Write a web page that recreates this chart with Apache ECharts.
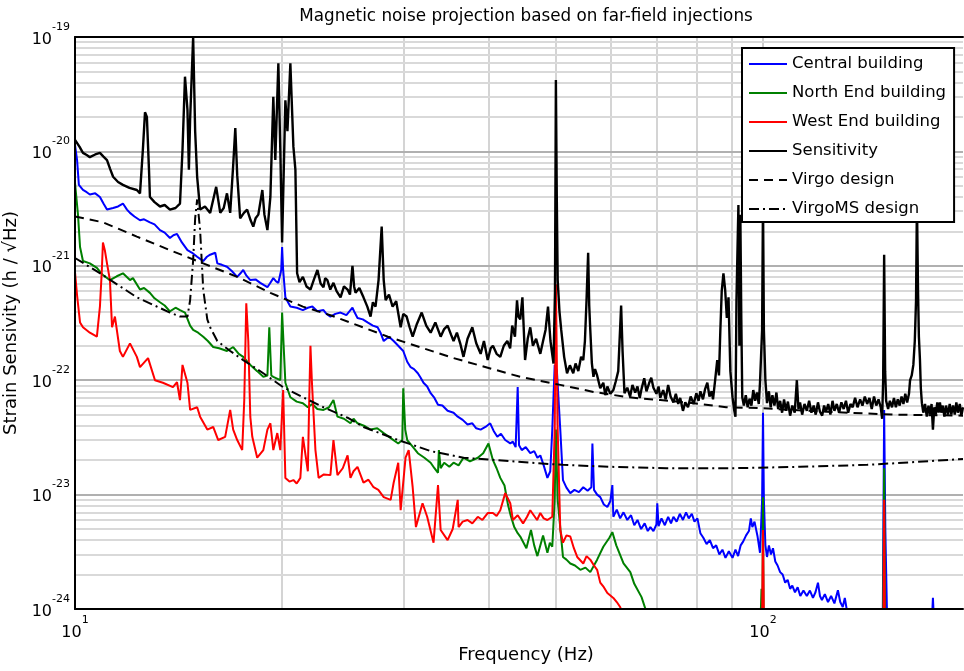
<!DOCTYPE html>
<html><head><meta charset="utf-8">
<script src="https://cdn.jsdelivr.net/npm/echarts@6/dist/echarts.min.js"></script>
<style>html,body{margin:0;padding:0;background:#fff}#c{width:964px;height:671px}</style>
</head><body><div id="c"></div>
<script>
// ---------- data (frequency in Hz, strain sensitivity in 1/sqrt(Hz)) ----------
const titleText = 'Magnetic noise projection based on far-field injections';
const xName = 'Frequency (Hz)';
const yName = 'Strain Sensivity (h / \u221AHz)';
const xRange = [10, 195.3];
const yRange = [1e-24, 1e-19];
const minorFreqs = [20, 30, 40, 50, 60, 70, 80, 90];
const majorFreqs = [100];
const yMinorMantissas = [2, 3, 4, 5, 6, 7, 8, 9];
const yDecades = [-24, -23, -22, -21, -20];
const yMajorExps = [-23, -22, -21, -20];
const seriesNames = ['Central building', 'North End building', 'West End building', 'Sensitivity', 'Virgo design', 'VirgoMS design'];

const central = [[10.0,1.14e-20],[10.07,8.4e-21],[10.13,5.1e-21],[10.27,4.6e-21],[10.4,4.4e-21],[10.51,4.2e-21],[10.7,4.3e-21],[10.87,4.0e-21],[11.0,3.5e-21],[11.13,3.1e-21],[11.36,3.2e-21],[11.55,3.3e-21],[11.74,3.5e-21],[11.9,3.1e-21],[12.02,2.9e-21],[12.2,2.7e-21],[12.43,2.5e-21],[12.6,2.55e-21],[12.85,2.4e-21],[13.05,2.3e-21],[13.29,2.05e-21],[13.5,1.95e-21],[13.74,1.75e-21],[13.9,1.85e-21],[14.07,1.9e-21],[14.3,1.6e-21],[14.57,1.37e-21],[14.8,1.3e-21],[15.05,1.2e-21],[15.36,1.1e-21],[15.55,1.2e-21],[15.72,1.25e-21],[15.99,1.3e-21],[16.10,1.05e-21],[16.35,1.02e-21],[16.63,9.8e-22],[16.9,9.0e-22],[17.21,8.0e-22],[17.4,8.6e-22],[17.56,9.2e-22],[17.75,8.2e-22],[17.98,7.5e-22],[18.3,7.6e-22],[18.59,7.1e-22],[18.8,6.8e-22],[19.04,6.5e-22],[19.2,7.0e-22],[19.42,7.8e-22],[19.6,7.3e-22],[19.75,7.1e-22],[19.94,9.2e-22],[20.0,1.46e-21],[20.07,9.2e-22],[20.22,5.3e-22],[20.4,4.8e-22],[20.56,4.4e-22],[21.0,4.3e-22],[21.44,4.1e-22],[21.8,4.3e-22],[22.13,4.4e-22],[22.5,4.0e-22],[22.97,4.1e-22],[23.2,3.8e-22],[23.51,3.6e-22],[23.9,3.8e-22],[24.32,3.9e-22],[24.8,3.7e-22],[25.31,4.3e-22],[25.5,3.9e-22],[25.74,3.5e-22],[26.2,3.4e-22],[26.62,3.2e-22],[27.1,3.0e-22],[27.53,2.9e-22],[27.8,2.6e-22],[28.1,2.2e-22],[28.6,2.4e-22],[29.05,2.2e-22],[29.5,2.0e-22],[30.0,1.8e-22],[30.4,1.45e-22],[30.75,1.3e-22],[31.1,1.25e-22],[31.5,1.15e-22],[31.8,1.05e-22],[32.1,9.5e-23],[32.5,8.8e-23],[32.88,7.7e-23],[33.3,7.0e-23],[33.7,6.1e-23],[34.2,6.0e-23],[34.8,5.4e-23],[35.5,5.2e-23],[36.0,4.8e-23],[36.6,4.5e-23],[37.2,4.1e-23],[37.8,4.2e-23],[38.3,3.8e-23],[38.87,3.7e-23],[39.5,3.9e-23],[40.13,4.2e-23],[40.6,3.6e-23],[41.1,3.2e-23],[41.6,3.4e-23],[42.2,3.0e-23],[42.92,2.8e-23],[43.3,2.9e-23],[43.7,2.6e-23],[44.0,8.7e-23],[44.2,2.7e-23],[44.6,2.45e-23],[45.2,2.6e-23],[45.89,2.3e-23],[46.5,2.4e-23],[47.0,2.1e-23],[47.46,2.2e-23],[48.0,1.8e-23],[48.6,1.4e-23],[49.07,1.6e-23],[49.4,3.7e-23],[49.8,1.36e-22],[50.17,1.2e-22],[50.74,3.7e-23],[51.2,1.34e-23],[51.8,1.15e-23],[52.47,1.03e-23],[53.2,1.1e-23],[54.0,1.05e-23],[54.8,1.16e-23],[55.6,1.08e-23],[56.3,1.16e-23],[56.5,2.8e-23],[56.8,1.1e-23],[57.4,1.0e-23],[58.01,9.5e-24],[58.7,8.2e-24],[59.4,7.8e-24],[60.0,8.8e-24],[60.4,1.21e-23],[60.6,6.4e-24],[61.3,7.4e-24],[62.0,6.2e-24],[62.7,7.0e-24],[63.5,6.0e-24],[64.3,6.6e-24],[65.0,5.4e-24],[65.7,6.0e-24],[66.5,5.0e-24],[67.3,5.6e-24],[68.0,4.8e-24],[68.6,5.2e-24],[69.3,4.8e-24],[70.0,5.5e-24],[70.2,8.4e-24],[70.5,5.3e-24],[71.2,6.2e-24],[72.0,5.4e-24],[72.8,6.4e-24],[73.5,5.6e-24],[74.1,6.4e-24],[74.9,5.8e-24],[75.7,6.8e-24],[76.5,6.0e-24],[77.3,7.0e-24],[78.0,6.2e-24],[78.8,6.8e-24],[79.5,5.8e-24],[80.3,6.2e-24],[81.09,4.6e-24],[81.9,4.2e-24],[82.8,3.7e-24],[83.7,4.0e-24],[84.6,3.4e-24],[85.5,3.6e-24],[86.4,3.0e-24],[87.3,3.3e-24],[88.2,2.8e-24],[89.2,3.2e-24],[90.3,2.8e-24],[91.2,3.3e-24],[92.0,2.9e-24],[92.8,3.6e-24],[93.6,3.9e-24],[94.5,4.4e-24],[95.4,4.8e-24],[96.0,6.2e-24],[96.5,5.2e-24],[97.2,5.8e-24],[98.2,4.3e-24],[99.0,3.1e-24],[99.7,9.0e-24],[100.0,5.2e-23],[100.3,9.0e-24],[100.8,3.6e-24],[101.35,2.85e-24],[102.0,3.6e-24],[102.7,3.0e-24],[103.4,3.4e-24],[104.2,2.6e-24],[105.0,2.4e-24],[105.9,2.1e-24],[106.8,2.0e-24],[107.7,1.7e-24],[108.6,1.8e-24],[109.5,1.5e-24],[110.3,1.6e-24],[111.3,1.4e-24],[112.3,1.55e-24],[113.3,1.3e-24],[114.5,1.45e-24],[115.8,1.3e-24],[117.0,1.45e-24],[118.2,1.25e-24],[119.2,1.4e-24],[120.2,1.7e-24],[121.0,1.3e-24],[121.8,1.2e-24],[123.0,1.35e-24],[124.3,1.15e-24],[125.6,1.3e-24],[127.0,1.12e-24],[128.5,1.46e-24],[129.5,1.15e-24],[130.6,1.04e-24],[131.5,1.25e-24],[132.5,9.5e-25],[133.8,8e-25],[149.3,8e-25],[150.0,5.5e-23],[150.6,4.9e-24],[151.5,8e-25],[176.0,8e-25],[176.6,1.25e-24],[177.2,8e-25],[195.3,8e-25]];

const northEnd = [[10.0,5.3e-21],[10.1,2.8e-21],[10.17,1.46e-21],[10.27,1.1e-21],[10.51,1.05e-21],[10.76,9.6e-22],[10.98,8.3e-22],[11.24,7.5e-22],[11.5,8.1e-22],[11.74,8.6e-22],[12.02,7.5e-22],[12.14,7.8e-22],[12.43,6.2e-22],[12.6,6.4e-22],[12.85,5.8e-22],[13.05,5.2e-22],[13.29,4.8e-22],[13.5,4.5e-22],[13.74,4.0e-22],[14.0,4.3e-22],[14.21,4.1e-22],[14.45,3.9e-22],[14.7,3.0e-22],[14.85,2.75e-22],[15.1,2.6e-22],[15.36,2.4e-22],[15.6,2.2e-22],[15.88,1.95e-22],[16.2,1.9e-22],[16.63,1.8e-22],[16.98,1.95e-22],[17.3,1.7e-22],[17.56,1.6e-22],[18.0,1.35e-22],[18.4,1.2e-22],[18.78,1.07e-22],[19.04,1.1e-22],[19.16,2.9e-22],[19.29,1.1e-22],[19.42,1.07e-22],[19.88,1.0e-22],[20.0,3.9e-22],[20.22,9.5e-23],[20.56,7.1e-23],[21.0,6.5e-23],[21.44,6.3e-23],[21.8,5.8e-23],[22.13,6.2e-23],[22.5,5.6e-23],[22.97,5.5e-23],[23.4,5.8e-23],[23.75,6.7e-23],[24.07,4.8e-23],[24.6,4.6e-23],[25.14,4.2e-23],[25.4,4.6e-23],[25.74,4.2e-23],[26.3,4.0e-23],[26.89,3.7e-23],[27.5,3.8e-23],[28.1,3.45e-23],[28.8,3.1e-23],[29.5,2.8e-23],[29.9,3.0e-23],[30.0,8.5e-23],[30.2,3.7e-23],[30.4,3.0e-23],[31.0,2.6e-23],[31.5,2.3e-23],[32.2,2.1e-23],[32.88,1.9e-23],[33.3,1.7e-23],[33.7,1.55e-23],[33.8,2.45e-23],[34.0,1.7e-23],[34.4,1.9e-23],[35.0,1.75e-23],[35.5,1.9e-23],[36.1,1.8e-23],[36.7,2.1e-23],[37.5,1.95e-23],[38.5,2.1e-23],[39.2,2.3e-23],[39.9,2.8e-23],[40.5,2.0e-23],[41.0,1.7e-23],[41.51,1.4e-23],[42.1,1.2e-23],[42.6,8.1e-24],[43.0,6.5e-24],[43.5,5.2e-24],[44.0,4.6e-24],[44.38,4.3e-24],[45.3,3.4e-24],[46.0,4.9e-24],[46.5,3.6e-24],[47.0,2.9e-24],[47.9,4.4e-24],[48.6,3.1e-24],[49.0,3.8e-24],[49.4,3.5e-24],[49.8,9.0e-24],[50.0,3.7e-23],[50.3,9.0e-24],[51.2,2.85e-24],[51.8,2.7e-24],[52.47,2.5e-24],[53.3,2.4e-24],[54.26,2.2e-24],[55.2,2.3e-24],[56.1,2.1e-24],[57.4,2.7e-24],[58.6,3.5e-24],[59.8,4.2e-24],[60.4,4.7e-24],[61.2,3.6e-24],[62.7,2.5e-24],[64.14,2.1e-24],[65.0,1.66e-24],[66.6,1.27e-24],[67.7,9.4e-25],[68.6,8e-25],[99.2,8e-25],[99.5,1.5e-24],[99.8,8e-25],[100.0,9.5e-24],[100.2,8e-25],[149.5,8e-25],[150.0,1.7e-23],[150.5,8e-25],[195.3,8e-25]];

const westEnd = [[10.0,8.8e-22],[10.07,5.5e-22],[10.17,3.2e-22],[10.27,2.9e-22],[10.51,2.6e-22],[10.76,2.4e-22],[10.87,4.4e-22],[10.94,9.2e-22],[10.98,1.6e-21],[11.05,1.37e-21],[11.13,1.05e-21],[11.24,7.5e-22],[11.32,2.9e-22],[11.43,3.6e-22],[11.62,1.8e-22],[11.74,1.6e-22],[12.02,2.1e-22],[12.30,1.6e-22],[12.43,1.3e-22],[12.77,1.56e-22],[13.07,1.0e-22],[13.42,9.5e-23],[13.88,8.7e-23],[14.07,9.6e-23],[14.21,6.7e-23],[14.33,1.36e-22],[14.57,9.5e-23],[14.70,5.5e-23],[15.05,5.8e-23],[15.20,4.8e-23],[15.57,3.7e-23],[15.88,3.9e-23],[16.15,3.0e-23],[16.53,3.2e-23],[16.81,5.5e-23],[16.98,3.7e-23],[17.21,3.0e-23],[17.5,2.45e-23],[17.62,6.7e-23],[17.74,4.7e-22],[17.86,2.2e-22],[17.98,4.8e-23],[18.1,3.2e-23],[18.4,2.1e-23],[18.78,2.45e-23],[19.04,3.7e-23],[19.23,4.2e-23],[19.42,2.45e-23],[19.68,3.45e-23],[19.88,2.45e-23],[20.07,8.2e-23],[20.22,1.4e-23],[20.5,1.3e-23],[20.77,1.34e-23],[21.0,1.25e-23],[21.26,1.4e-23],[21.44,3.2e-23],[21.8,1.6e-23],[21.9,6.7e-23],[21.99,2.0e-22],[22.1,9.5e-23],[22.36,2.45e-23],[22.6,1.4e-23],[23.0,1.5e-23],[23.51,1.48e-23],[23.75,3.0e-23],[24.07,1.48e-23],[24.5,1.7e-23],[24.9,2.2e-23],[25.14,1.4e-23],[25.4,1.6e-23],[25.74,1.75e-23],[26.26,1.27e-23],[26.7,1.35e-23],[27.16,1.16e-23],[27.6,1.1e-23],[28.1,9.5e-24],[28.76,9.0e-24],[29.05,1.27e-23],[29.5,1.9e-23],[29.74,7.3e-24],[30.23,2.1e-23],[30.55,2.45e-23],[30.96,1.16e-23],[31.3,5.2e-24],[32.0,8.4e-24],[32.5,6.4e-24],[33.2,3.8e-24],[33.7,1.21e-23],[34.0,4.9e-24],[34.8,4.0e-24],[35.4,5.0e-24],[36.0,9.0e-24],[36.1,5.2e-24],[36.6,5.8e-24],[37.2,6.0e-24],[37.8,5.6e-24],[38.5,6.4e-24],[39.1,6.0e-24],[39.8,6.9e-24],[40.5,6.9e-24],[41.0,6.5e-24],[41.51,7.3e-24],[42.2,1.03e-23],[42.92,8.4e-24],[43.3,6.0e-24],[44.0,6.6e-24],[44.8,5.6e-24],[45.4,6.4e-24],[45.89,7.3e-24],[46.95,6.0e-24],[47.46,6.9e-24],[48.0,6.2e-24],[48.6,6.0e-24],[49.4,6.4e-24],[49.8,3.7e-23],[50.0,6.9e-22],[50.3,3.7e-23],[50.74,4.9e-24],[51.2,3.8e-24],[51.8,4.4e-24],[52.47,4.3e-24],[53.1,3.4e-24],[53.7,2.85e-24],[54.8,2.5e-24],[55.4,2.9e-24],[56.1,2.7e-24],[56.8,2.4e-24],[57.4,2.2e-24],[58.0,1.7e-24],[58.7,1.55e-24],[59.4,1.38e-24],[60.6,1.25e-24],[61.3,1.15e-24],[62.0,1.04e-24],[63.0,8e-25],[99.7,8e-25],[100.0,4.9e-24],[100.3,8e-25],[149.7,8e-25],[150.0,9.0e-24],[150.3,8e-25],[195.3,8e-25]];

const sensitivity = [[10.0,1.26e-20],[10.15,1.1e-20],[10.27,9.7e-21],[10.4,9.3e-21],[10.51,8.9e-21],[10.7,9.4e-21],[10.87,9.7e-21],[11.0,9.0e-21],[11.13,8.4e-21],[11.25,7.0e-21],[11.36,6.0e-21],[11.55,5.4e-21],[11.74,5.1e-21],[12.0,4.8e-21],[12.30,4.6e-21],[12.43,4.3e-21],[12.55,1.03e-20],[12.64,2.2e-20],[12.72,2.0e-20],[12.81,6.9e-21],[12.85,4.0e-21],[13.05,3.6e-21],[13.29,3.3e-21],[13.5,3.4e-21],[13.74,3.1e-21],[14.0,3.2e-21],[14.21,3.5e-21],[14.33,1.03e-20],[14.45,4.5e-20],[14.57,2.3e-20],[14.64,6.9e-21],[14.70,1.9e-20],[14.85,1.0e-19],[14.95,1.5e-20],[15.05,6.0e-21],[15.20,3.1e-21],[15.45,3.3e-21],[15.72,2.9e-21],[16.04,4.9e-21],[16.26,2.9e-21],[16.45,3.2e-21],[16.63,4.3e-21],[16.81,2.9e-21],[16.98,7.6e-21],[17.10,1.6e-20],[17.21,6.2e-21],[17.38,2.6e-21],[17.6,2.9e-21],[17.79,3.1e-21],[18.0,2.5e-21],[18.16,2.2e-21],[18.3,2.6e-21],[18.47,2.8e-21],[18.72,4.6e-21],[18.85,2.8e-21],[19.04,2.05e-21],[19.23,4.0e-21],[19.42,3.0e-20],[19.55,8.4e-21],[19.75,5.9e-20],[19.88,1.03e-20],[20.0,1.6e-21],[20.22,2.8e-20],[20.36,1.5e-20],[20.56,5.9e-20],[20.77,1.1e-20],[20.91,6.9e-21],[21.03,8.6e-22],[21.2,7.2e-22],[21.44,8.0e-22],[21.7,6.6e-22],[21.99,6.2e-22],[22.25,7.6e-22],[22.51,9.2e-22],[22.75,7.0e-22],[22.97,6.5e-22],[23.1,7.8e-22],[23.27,7.5e-22],[23.5,6.2e-22],[23.75,7.1e-22],[24.0,6.0e-22],[24.32,5.3e-22],[24.6,6.6e-22],[24.90,6.2e-22],[25.1,5.6e-22],[25.31,1.0e-21],[25.45,6.6e-22],[25.57,5.8e-22],[25.9,6.4e-22],[26.26,5.3e-22],[26.6,4.4e-22],[26.89,3.6e-22],[27.1,4.8e-22],[27.34,4.4e-22],[27.62,7.5e-22],[27.91,2.2e-21],[28.1,7.5e-22],[28.28,5.0e-22],[28.6,5.6e-22],[28.95,4.4e-22],[29.3,4.9e-22],[29.74,2.9e-22],[30.0,3.8e-22],[30.34,3.6e-22],[30.65,2.9e-22],[30.96,2.4e-22],[31.4,3.1e-22],[31.91,3.9e-22],[32.4,3.0e-22],[32.88,2.6e-22],[33.4,3.2e-22],[34.0,2.4e-22],[34.4,2.8e-22],[34.8,3.0e-22],[35.2,2.5e-22],[35.5,2.2e-22],[35.9,2.6e-22],[36.3,2.1e-22],[36.7,1.6e-22],[37.2,2.3e-22],[37.8,2.9e-22],[38.3,2.1e-22],[38.87,1.7e-22],[39.3,2.2e-22],[39.8,1.5e-22],[40.2,1.9e-22],[40.5,2.0e-22],[41.0,1.7e-22],[41.51,1.6e-22],[42.0,2.0e-22],[42.5,2.2e-22],[42.9,1.9e-22],[43.2,3.0e-22],[43.6,2.4e-22],[43.9,5.0e-22],[44.1,3.6e-22],[44.38,3.4e-22],[44.7,5.3e-22],[45.1,1.5e-22],[45.5,2.3e-22],[45.89,2.9e-22],[46.3,2.0e-22],[46.8,2.3e-22],[47.46,1.7e-22],[47.9,2.2e-22],[48.3,2.75e-22],[48.7,4.4e-22],[49.1,2.2e-22],[49.6,1.4e-22],[49.85,6.0e-22],[50.0,4.2e-20],[50.15,4.0e-21],[50.3,7.5e-22],[50.6,4.0e-22],[50.9,2.75e-22],[51.4,1.6e-22],[51.9,1.15e-22],[52.4,1.35e-22],[52.99,1.15e-22],[53.4,1.4e-22],[53.9,1.2e-22],[54.4,1.6e-22],[54.8,1.5e-22],[55.1,2.2e-22],[55.4,5.0e-22],[55.7,1.3e-21],[55.9,4.5e-22],[56.1,2.75e-22],[56.4,1.4e-22],[56.7,1.07e-22],[57.0,1.25e-22],[57.4,1.1e-22],[58.0,8.5e-23],[58.6,9.5e-23],[59.0,7.4e-23],[59.4,8.8e-23],[60.0,7.6e-23],[60.6,8.2e-23],[61.1,9.8e-23],[61.6,1.2e-22],[62.2,4.5e-22],[62.5,1.8e-22],[62.9,7.7e-23],[63.5,8.6e-23],[64.1,7.2e-23],[64.6,9.1e-23],[65.2,7.8e-23],[65.7,8.8e-23],[66.2,7.0e-23],[66.6,8.4e-23],[67.2,1.04e-22],[67.7,8.0e-23],[68.3,9.4e-23],[68.8,1.05e-22],[69.3,8.6e-23],[70.0,7.6e-23],[70.5,8.8e-23],[70.9,7.0e-23],[71.6,8.2e-23],[72.2,6.8e-23],[72.8,9.1e-23],[73.4,7.2e-23],[74.1,6.4e-23],[74.7,7.6e-23],[75.3,6.2e-23],[75.8,7.0e-23],[76.5,5.4e-23],[77.1,6.4e-23],[77.8,5.8e-23],[78.5,7.2e-23],[79.3,6.2e-23],[80.0,7.7e-23],[80.6,6.6e-23],[81.1,8.0e-23],[81.8,6.8e-23],[82.4,8.4e-23],[83.0,9.5e-23],[83.6,7.2e-23],[84.2,8.0e-23],[84.6,6.8e-23],[85.2,1.0e-22],[85.8,1.5e-22],[86.3,1.1e-22],[86.7,2.75e-22],[87.1,6.0e-22],[87.6,8.6e-22],[88.1,6.2e-22],[88.6,3.5e-22],[89.1,5.3e-22],[89.65,1.2e-22],[90.3,7.1e-23],[90.8,5.5e-23],[91.2,4.8e-23],[91.5,5.0e-22],[92.1,3.4e-21],[92.4,2.0e-22],[92.7,2.8e-21],[93.0,3.4e-22],[93.3,7.1e-23],[93.8,6.0e-23],[94.4,7.4e-23],[95.0,5.8e-23],[95.6,6.9e-23],[96.2,6.0e-23],[96.8,8.2e-23],[97.4,6.6e-23],[98.0,7.8e-23],[98.6,6.2e-23],[99.0,9.5e-23],[99.7,2.75e-22],[100.0,3.8e-21],[100.3,2.75e-22],[100.8,1.0e-22],[101.35,6.3e-23],[102.0,8.0e-23],[102.6,5.8e-23],[103.2,7.4e-23],[103.9,6.0e-23],[104.6,7.8e-23],[105.2,5.6e-23],[105.9,6.6e-23],[106.6,5.2e-23],[107.3,6.8e-23],[108.0,5.4e-23],[108.7,6.5e-23],[109.5,4.9e-23],[110.3,6.0e-23],[111.2,5.2e-23],[112.0,1.0e-22],[112.6,5.6e-23],[113.2,6.4e-23],[114.0,5.0e-23],[114.9,6.2e-23],[115.8,5.4e-23],[116.7,6.6e-23],[117.6,5.2e-23],[118.5,6.0e-23],[119.3,5.0e-23],[120.2,6.4e-23],[121.0,5.3e-23],[121.9,4.9e-23],[122.7,6.0e-23],[123.5,5.3e-23],[124.4,6.2e-23],[125.3,5.0e-23],[126.2,6.6e-23],[127.0,5.4e-23],[128.0,6.2e-23],[129.0,5.2e-23],[130.0,6.4e-23],[131.0,5.6e-23],[132.0,6.6e-23],[133.0,5.2e-23],[134.0,6.2e-23],[135.0,5.8e-23],[136.1,7.0e-23],[137.2,5.8e-23],[138.4,6.8e-23],[139.5,6.0e-23],[140.6,7.2e-23],[141.7,6.2e-23],[142.8,7.0e-23],[143.9,5.6e-23],[145.0,7.2e-23],[146.1,6.0e-23],[147.2,6.8e-23],[148.3,5.8e-23],[149.0,4.6e-23],[149.5,1.0e-22],[150.0,1.25e-21],[150.5,1.2e-22],[151.0,6.6e-23],[152.0,5.6e-23],[152.9,6.6e-23],[154.0,5.8e-23],[155.0,7.0e-23],[156.0,5.8e-23],[157.0,6.8e-23],[158.0,6.0e-23],[159.0,7.2e-23],[160.0,6.2e-23],[161.0,7.6e-23],[162.0,6.4e-23],[163.0,7.6e-23],[163.6,1.0e-22],[164.5,1.1e-22],[165.4,1.36e-22],[166.2,2.2e-22],[166.9,5.0e-22],[167.4,3.8e-21],[168.0,6.2e-22],[168.5,2.4e-22],[169.1,1.5e-22],[169.6,8.5e-23],[170.2,6.3e-23],[171.0,5.2e-23],[172.0,6.2e-23],[173.0,4.8e-23],[174.0,6.0e-23],[174.9,5.0e-23],[175.8,6.2e-23],[176.6,3.7e-23],[177.4,5.8e-23],[178.3,5.0e-23],[179.2,6.4e-23],[180.0,5.2e-23],[180.8,6.4e-23],[181.6,5.2e-23],[182.5,6.0e-23],[183.5,4.8e-23],[184.5,6.0e-23],[185.7,5.0e-23],[186.8,6.2e-23],[187.8,5.0e-23],[188.9,6.0e-23],[190.0,5.0e-23],[191.0,6.4e-23],[192.0,5.2e-23],[193.2,6.2e-23],[194.2,4.9e-23],[195.3,5.8e-23]];

const virgoDesign = [[10.0,2.7e-21],[10.98,2.4e-21],[12.30,1.8e-21],[13.74,1.37e-21],[15.36,1.05e-21],[17.21,8.0e-22],[19.23,5.8e-22],[21.44,4.4e-22],[23.51,3.7e-22],[28.5,2.4e-22],[35.5,1.56e-22],[44.38,1.07e-22],[50.74,9.1e-23],[56.7,7.9e-23],[63.6,7.1e-23],[70.93,6.7e-23],[79.3,6.3e-23],[88.4,5.8e-23],[99.0,5.7e-23],[123.5,5.3e-23],[154.6,5.0e-23],[195.3,4.9e-23]];

const virgoMSDesign = [[10.0,1.17e-21],[10.98,8.3e-22],[12.30,5.3e-22],[13.74,3.9e-22],[14.21,3.6e-22],[14.57,3.6e-22],[14.7,5.0e-22],[14.85,1.12e-21],[14.95,2.6e-21],[15.05,3.8e-21],[15.2,2.05e-21],[15.36,6.2e-22],[15.57,3.4e-22],[15.72,2.9e-22],[16.1,2.2e-22],[16.81,1.8e-22],[17.56,1.5e-22],[18.78,1.15e-22],[20.07,8.7e-23],[21.44,7.1e-23],[22.97,5.8e-23],[24.9,4.7e-23],[26.26,3.9e-23],[29.5,3.0e-23],[32.88,2.4e-23],[36.7,2.1e-23],[41.1,2.0e-23],[45.89,1.9e-23],[51.2,1.82e-23],[60.0,1.75e-23],[72.4,1.7e-23],[90.3,1.7e-23],[113.2,1.75e-23],[141.7,1.82e-23],[167.4,1.93e-23],[195.3,2.05e-23]];

// ---------- chart ----------
// values are handed to the log axis in units of 1e-24 (avoids float rounding of tiny tick values)
const UNIT_EXP = -24;
const UNIT = Math.pow(10, UNIT_EXP);
const toUnits = arr => arr.map(p => [p[0], p[1] / UNIT]);

const FONT = 'DejaVu Sans';
function powLabel(v, offset) {
  const l = Math.log10(v);
  const e = Math.round(l);
  if (Math.abs(l - e) > 1e-6) return '';
  return '{b|10}{s|' + (e + offset) + '}';
}
const richLabel = {
  b: { fontFamily: FONT, fontSize: 16, color: '#000', lineHeight: 26, verticalAlign: 'bottom' },
  s: { fontFamily: FONT, fontSize: 11, color: '#000', lineHeight: 11, verticalAlign: 'top' }
};

const gridLines = [];
minorFreqs.forEach(f => gridLines.push({ xAxis: f, lineStyle: { color: '#d4d4d4', width: 2, type: 'solid' } }));
majorFreqs.forEach(f => gridLines.push({ xAxis: f, lineStyle: { color: '#cccccc', width: 2, type: 'solid' } }));
yDecades.forEach(e => yMinorMantissas.forEach(m => gridLines.push({ yAxis: m * Math.pow(10, e - UNIT_EXP), lineStyle: { color: '#d9d9d9', width: 2, type: 'solid' } })));
yMajorExps.forEach(e => gridLines.push({ yAxis: Math.pow(10, e - UNIT_EXP), lineStyle: { color: '#b0b0b0', width: 2, type: 'solid' } }));

const colors = ['#0000ff', '#008000', '#ff0000', '#000000', '#000000', '#000000'];
const datasets = [central, northEnd, westEnd, sensitivity, virgoDesign, virgoMSDesign];
const lineTypes = ['solid', 'solid', 'solid', 'solid', [9, 6], [10, 4, 2, 4]];
const widths = [2, 2, 2, 2.4, 2, 2];

const series = [{
  name: '_grid', type: 'line', data: [[xRange[0], yRange[1] / UNIT]], symbol: 'none', silent: true, z: 0,
  lineStyle: { width: 0 },
  markLine: { silent: true, z: 0, zlevel: 0, symbol: ['none', 'none'], label: { show: false }, animation: false, data: gridLines }
}];
datasets.forEach((d, i) => series.push({
  name: seriesNames[i], type: 'line', data: toUnits(d), symbol: 'none', showSymbol: false,
  clip: true, z: 10 + i, silent: true,
  lineStyle: { color: colors[i], width: widths[i], type: lineTypes[i] },
  itemStyle: { color: colors[i] }
}));

const chart = echarts.init(document.getElementById('c'));
chart.setOption({
  animation: false,
  backgroundColor: '#ffffff',
  title: { text: titleText, left: 521, top: 3, textAlign: 'center',
    textStyle: { fontFamily: FONT, fontSize: 16.8, fontWeight: 'normal', color: '#000' } },
  grid: { left: 75, right: 1, top: 37, bottom: 62, containLabel: false, outerBoundsMode: 'none' },
  legend: {
    data: seriesNames, orient: 'vertical', left: 742, top: 48,
    itemWidth: 38, itemHeight: 10, itemGap: 11,
    padding: [7, 8, 4, 6],
    borderColor: '#000', borderWidth: 2, backgroundColor: '#fff',
    selectedMode: false, z: 30,
    itemStyle: { opacity: 0 },
    textStyle: { fontFamily: FONT, fontSize: 16.5, color: '#000', lineHeight: 18 }
  },
  xAxis: [{
    type: 'log', logBase: 10, min: xRange[0], max: xRange[1],
    name: xName, nameLocation: 'middle', nameGap: 37, z: 20,
    nameTextStyle: { fontFamily: FONT, fontSize: 18, color: '#000', padding: [0, 0, 0, 14] },
    axisLine: { show: true, lineStyle: { color: '#000', width: 2 } },
    axisTick: { show: false }, splitLine: { show: false }, minorSplitLine: { show: false },
    axisLabel: { formatter: v => powLabel(v, 0), rich: richLabel, margin: 6, showMaxLabel: false }
  }, {
    type: 'log', logBase: 10, min: xRange[0], max: xRange[1], position: 'top', z: 20,
    axisLine: { show: true, lineStyle: { color: '#000', width: 2 } },
    axisTick: { show: false }, axisLabel: { show: false }, splitLine: { show: false }
  }],
  yAxis: [{
    type: 'log', logBase: 10, min: yRange[0] / UNIT, max: yRange[1] / UNIT, z: 20,
    name: yName, nameLocation: 'middle', nameGap: 50,
    nameTextStyle: { fontFamily: FONT, fontSize: 18, color: '#000' },
    axisLine: { show: true, lineStyle: { color: '#000', width: 2 } },
    axisTick: { show: false }, splitLine: { show: false },
    axisLabel: { formatter: v => powLabel(v, UNIT_EXP), rich: richLabel, margin: 5, padding: [0, 0, 5, 0] }
  }],
  series: series
});
</script>
</body></html>
